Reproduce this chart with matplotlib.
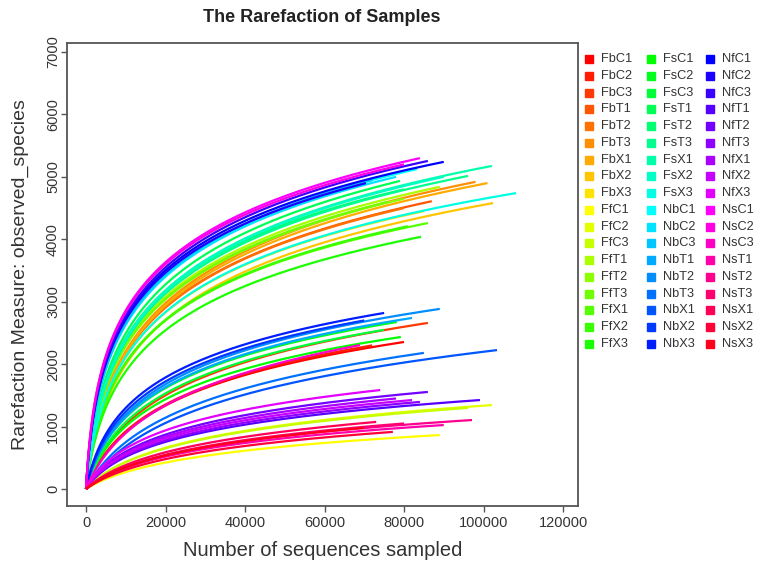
import numpy as np
import matplotlib
matplotlib.use('Agg')
import matplotlib.pyplot as plt
import colorsys

# Sample names (legend order)
samples = ['FbC1', 'FbC2', 'FbC3', 'FbT1', 'FbT2', 'FbT3', 'FbX1', 'FbX2', 'FbX3',
           'FfC1', 'FfC2', 'FfC3', 'FfT1', 'FfT2', 'FfT3', 'FfX1', 'FfX2', 'FfX3',
           'FsC1', 'FsC2', 'FsC3', 'FsT1', 'FsT2', 'FsT3', 'FsX1', 'FsX2', 'FsX3',
           'NbC1', 'NbC2', 'NbC3', 'NbT1', 'NbT2', 'NbT3', 'NbX1', 'NbX2', 'NbX3',
           'NfC1', 'NfC2', 'NfC3', 'NfT1', 'NfT2', 'NfT3', 'NfX1', 'NfX2', 'NfX3',
           'NsC1', 'NsC2', 'NsC3', 'NsT1', 'NsT2', 'NsT3', 'NsX1', 'NsX2', 'NsX3']

# Sequencing depth of each sample (end of curve)
depth = [80000, 72000, 86000, 87000, 80000, 98000, 101000, 102400, 85000,
         89000, 102100, 96100, 89000, 80000, 76000, 86000, 81000, 84300,
         79200, 78200, 75000, 79000, 80000, 96100, 102100, 90000, 108200,
         83300, 78000, 72000, 82000, 89000, 85000, 103400, 70000, 75000,
         90000, 70400, 86000, 99100, 86000, 84000, 78000, 82000, 74000,
         84000, 80000, 68900, 90000, 97100, 80000, 73000, 77200, 70000]

# Observed species at full depth
observed = [2355, 2300, 2660, 4610, 4500, 4920, 4900, 4580, 4450,
            865, 1345, 1300, 4840, 4650, 4600, 4260, 4210, 4040,
            2435, 2675, 2550, 4935, 4800, 5015, 5175, 5000, 4740,
            5125, 5000, 4950, 2740, 2885, 2180, 2225, 2700, 2820,
            5240, 4900, 5255, 1425, 1555, 1395, 1450, 1425, 1585,
            5300, 5200, 2305, 1025, 1105, 1050, 1075, 915, 980]

# Bend of each curve: sequences at which the curve turns over
bend = [5000, 5000, 4500, 2000, 2000, 2200, 2200, 2400, 2000,
        9000, 7000, 7000, 1800, 1800, 1800, 2000, 2000, 2200,
        4000, 3500, 4000, 1600, 1600, 1800, 1800, 1800, 2000,
        1300, 1300, 1300, 3500, 3500, 7000, 8000, 3000, 2700,
        1100, 1100, 1100, 5000, 4700, 5000, 4700, 4700, 4500,
        1000, 1000, 6000, 7500, 8000, 8000, 7500, 8500, 8000]

xticks = [0, 20000, 40000, 60000, 80000, 100000, 120000]
yticks = [0, 1000, 2000, 3000, 4000, 5000, 6000, 7000]

W, H = 761, 562
plt.rcParams['font.family'] = ['Liberation Sans', 'DejaVu Sans']
fig = plt.figure(figsize=(W / 100, H / 100), dpi=100)
ax = fig.add_axes([67 / W, 1 - 506 / H, (578 - 67) / W, (506 - 43) / H])

# rainbow palette like R's rainbow(n)
n = len(samples)
colors = [colorsys.hsv_to_rgb(i / n, 1, 1) for i in range(n)]

for i in range(n):
    x = np.linspace(0, depth[i], 400)
    y = observed[i] * np.log1p(x / bend[i]) / np.log1p(depth[i] / bend[i])
    ax.plot(x, y, color=colors[i], lw=1.6, solid_capstyle='butt')

ax.set_xlim(-4780, 123770)
ax.set_ylim(-272, 7144)
ax.set_xticks(xticks)
ax.set_yticks(yticks)
ax.set_xticklabels([str(t) for t in xticks])
ax.set_yticklabels([str(t) for t in yticks], rotation=90, va='center')
ax.tick_params(axis='both', direction='out', length=4, width=1, color='#555555',
               labelsize=10.5, labelcolor='#333333')
ax.tick_params(axis='x', pad=3)
ax.tick_params(axis='y', pad=1)
for s in ax.spines.values():
    s.set_color('#555555')
    s.set_linewidth(1.3)

ax.set_xlabel('Number of sequences sampled', fontsize=14.5, color='#333333', labelpad=8)
ax.set_ylabel('Rarefaction Measure: observed_species', fontsize=14, color='#333333', labelpad=12)
fig.text(322 / W, 1 - 18 / H, 'The Rarefaction of Samples', ha='center', va='center',
         fontsize=13, fontweight='bold', color='#222222')

# legend: three columns of 18
col_sq = [589, 651, 710]
col_tx = [601, 663, 722]
for i in range(n):
    c, r = i // 18, i % 18
    yy = 1 - (59 + r * 16.76) / H
    fig.lines.append(plt.Line2D([col_sq[c] / W], [yy], marker='s', markersize=5.5,
                                color=colors[i], transform=fig.transFigure))
    fig.text(col_tx[c] / W, yy, samples[i], ha='left', va='center',
             fontsize=9.2, color='#333333')

fig.savefig('out.png', dpi=100)
